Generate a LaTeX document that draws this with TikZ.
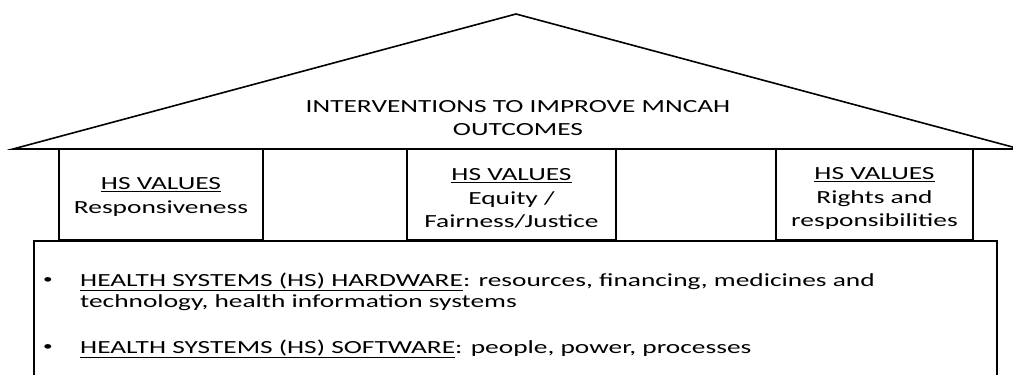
\documentclass[tikz,border=0pt]{standalone}
\usepackage{fontspec}
\setmainfont[FakeStretch=1.48]{Carlito}
\tikzset{
  wall/.style={line width=1.6pt, line join=miter},
  label/.style={font=\fontsize{18.5}{22.5}\selectfont, inner sep=0pt, align=center},
  pillar/.style={label, font=\fontsize{18.5}{23.5}\selectfont},
  item/.style={font=\fontsize{18.5}{21.5}\selectfont, inner sep=0pt, align=left, anchor=north west},
  dot/.style={font=\fontsize{13}{13}\selectfont, inner sep=0pt, anchor=base},
}
\begin{document}
\begin{tikzpicture}[x=1pt,y=-1pt]
    \useasboundingbox (0,0) rectangle (1013,375);
    \clip (0,0) rectangle (1013,375);

    % Roof
    \draw[wall] (13,149) -- (516,14) -- (1020,149) -- cycle;
    \node[label] (roof) at (518,118) {INTERVENTIONS TO IMPROVE MNCAH\\OUTCOMES};

    % Pillars under the roof
    \foreach \a/\b in {59/263, 407/616, 776/973} {
        \draw[wall] (\a,149) rectangle (\b,240);
    }
    \node[pillar] (resp) at (161,197) {\underline{HS VALUES}\\Responsiveness};
    \node[pillar] (equity) at (511.5,198.5) {\underline{HS VALUES}\\Equity /\\Fairness/Justice};
    \node[pillar] (rights) at (874.5,198.5) {\underline{HS VALUES}\\Rights and\\responsibilities};

    % Foundation
    \draw[wall] (34,241) rectangle (997,400);
    \node[dot] (dot1) at (48,283) {•};
    \node[item] (hardware) at (80,272.5) {\underline{HEALTH SYSTEMS (HS) HARDWARE}: resources, financing, medicines and\\technology, health information systems};
    \node[dot] (dot2) at (48,350) {•};
    \node[item] (software) at (80,339.5) {\underline{HEALTH SYSTEMS (HS) SOFTWARE}: people, power, processes};
\end{tikzpicture}
\end{document}
